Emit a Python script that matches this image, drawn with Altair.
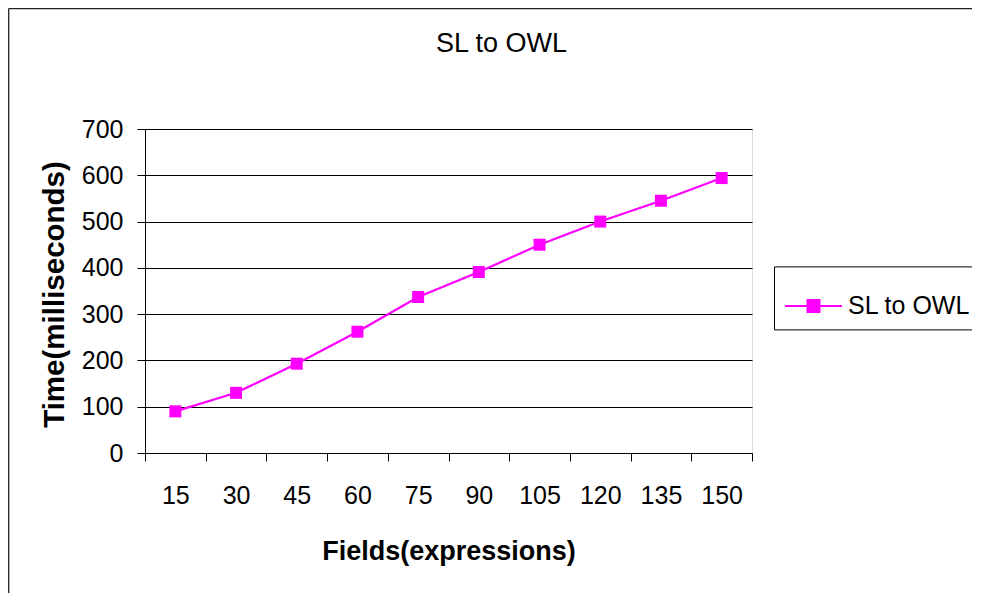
import altair as alt
import pandas as pd

fields = ["15", "30", "45", "60", "75", "90", "105", "120", "135", "150"]
times = [90, 130, 193, 262, 337, 391, 450, 500, 545, 594]
series_name = "SL to OWL"
y_ticks = [0, 100, 200, 300, 400, 500, 600, 700]

df = pd.DataFrame({"Fields": fields, "Time": times, "Series": [series_name] * len(fields)})

FONT = "Liberation Sans"
MAGENTA = "#FF00FF"

legend_symbol = "M-1,0H1M-0.21,-0.21H0.21V0.21H-0.21Z"

base = alt.Chart(df).encode(
    x=alt.X(
        "Fields:O",
        sort=fields,
        scale=alt.Scale(type="band", paddingInner=0, paddingOuter=0),
        axis=alt.Axis(
            title="Fields(expressions)",
            labelAngle=0,
            labelFont=FONT,
            labelFontSize=25,
            labelColor="black",
            labelPadding=22,
            tickBand="extent",
            tickSize=8,
            tickColor="black",
            domainColor="black",
            grid=False,
            titleFont=FONT,
            titleFontSize=27,
            titleFontWeight="bold",
            titleColor="black",
            titleX=303.5,
            titleY=106.7,
            titleBaseline="alphabetic",
        ),
    ),
    y=alt.Y(
        "Time:Q",
        scale=alt.Scale(domain=[0, 700], nice=False),
        axis=alt.Axis(
            title="Time(milliseconds)",
            values=y_ticks,
            labelFont=FONT,
            labelFontSize=25,
            labelColor="black",
            labelPadding=14,
            tickSize=8,
            tickColor="black",
            domainColor="black",
            grid=True,
            gridColor="black",
            gridWidth=1,
            titleFont=FONT,
            titleFontSize=29.5,
            titleFontWeight="bold",
            titleColor="black",
            titleAngle=-90,
            titleX=-91,
            titleY=165,
            titleAlign="center",
            titleBaseline="middle",
        ),
    ),
    color=alt.Color(
        "Series:N",
        scale=alt.Scale(domain=[series_name], range=[MAGENTA]),
        legend=alt.Legend(
            title=None,
            orient="none",
            legendX=629,
            legendY=137.4,
            padding=10,
            strokeColor="black",
            fillColor="white",
            cornerRadius=0,
            labelFont=FONT,
            labelFontSize=25,
            labelColor="black",
            labelOffset=5,
            symbolType=legend_symbol,
            symbolSize=3249,
            symbolFillColor=MAGENTA,
            symbolStrokeColor=MAGENTA,
            symbolStrokeWidth=2,
            symbolOpacity=1,
        ),
    ),
)

line = base.mark_line(strokeWidth=2.2)
pts = base.mark_point(shape="square", filled=True, size=144, opacity=1)

frame_left = alt.Chart(alt.Data(values=[{}])).mark_rule(color="#222", strokeWidth=1.3).encode(
    x=alt.value(-136.3), y=alt.value(-120.5), y2=alt.value(470)
)
frame_top = alt.Chart(alt.Data(values=[{}])).mark_rule(color="#222", strokeWidth=1.3).encode(
    x=alt.value(-136.3), x2=alt.value(840), y=alt.value(-120.5)
)

chart = alt.layer(line, pts, frame_left, frame_top).properties(
    width=607,
    height=324,
    title=alt.TitleParams(
        "SL to OWL",
        font=FONT,
        fontSize=27,
        fontWeight="normal",
        color="black",
        anchor="middle",
        dx=53,
        dy=71,
        baseline="alphabetic",
        offset=0,
    ),
    autosize=alt.AutoSizeParams(type="none"),
    padding={"left": 137, "top": 121, "right": 220, "bottom": 140},
).configure_view(
    stroke="#808080",
    strokeWidth=1.5,
).configure(background="white")

chart.save("out.html", embed_options={"renderer": "svg", "actions": False})
